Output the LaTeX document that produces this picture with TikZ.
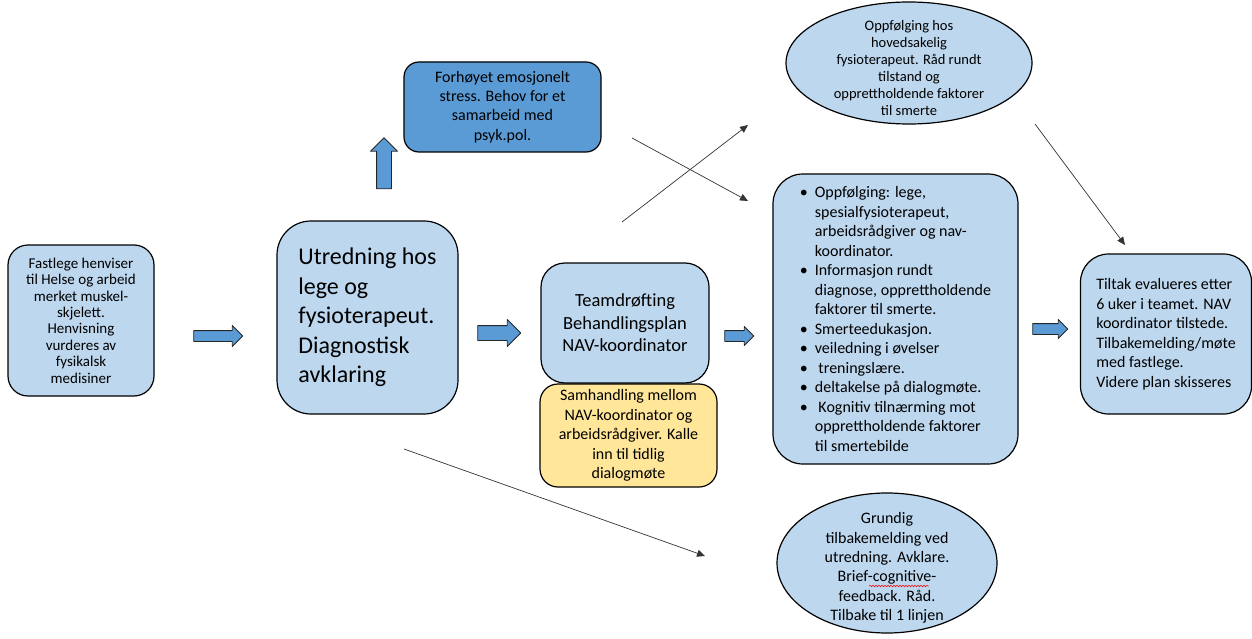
\documentclass[tikz,border=0pt]{standalone}
\usepackage{fontspec}
\setmainfont{Carlito}
\usetikzlibrary{shapes.arrows,shapes.geometric,arrows.meta,decorations.pathmorphing}
\definecolor{boxblue}{HTML}{BDD7EE}
\definecolor{darkblue}{HTML}{5B9BD5}
\definecolor{boxyellow}{HTML}{FFE699}
\newcommand\gbul{\makebox[15pt][l]{\textbullet}}
\newcommand\gind{\hspace*{15pt}}
\tikzset{
  box/.style={draw=black, line width=1.2pt, fill=boxblue, rounded corners=#1, inner sep=0pt},
  oval/.style={draw=black, line width=1.2pt, fill=boxblue, ellipse, inner sep=0pt},
  blockarrow/.style={single arrow, draw=black!85, line width=0.9pt, fill=darkblue, inner xsep=0pt,
    single arrow tip angle=90, single arrow head indent=0pt},
  thinarrow/.style={draw=black!80, line width=0.7pt, -{Triangle[length=8pt,width=7pt]}},
  txt/.style={align=center, font=\fontsize{16}{19.4}\selectfont}
}
\begin{document}
\begin{tikzpicture}[x=1pt, y=-1pt, line join=round]
\useasboundingbox (0,0) rectangle (1252,639);
% boxes
\node[box=20pt, minimum width=146, minimum height=151, align=center,
  font=\fontsize{15}{16.4}\selectfont] (henv) at (81,320.5)
  {Fastlege henviser\\til Helse og arbeid\\merket muskel-\\skjelett.\\Henvisning\\vurderes av\\fysikalsk\\medisiner};
\node[box=34pt, minimum width=181, minimum height=193, align=left,
  font=\fontsize{24}{29.5}\selectfont] (utr) at (367.5,317.5)
  {Utredning hos\\lege og\\fysioterapeut.\\Diagnostisk\\avklaring};
\node[box=24pt, minimum width=168, minimum height=120, align=center,
  font=\fontsize{18.5}{22.5}\selectfont] (team) at (625,323)
  {Teamdrøfting\\Behandlingsplan\\NAV-koordinator};
\node[box=18pt, fill=boxyellow, minimum width=177, minimum height=103, txt] (samh) at (628.5,435.5)
  {Samhandling mellom\\NAV-koordinator og\\arbeidsrådgiver. Kalle\\inn til tidlig\\dialogmøte};
\node[box=15pt, fill=darkblue, minimum width=197, minimum height=90, txt] (stress) at (502.5,107)
  {Forhøyet emosjonelt\\stress. Behov for et\\samarbeid med\\psyk.pol.};
\node[box=30pt, minimum width=245, minimum height=290, align=left,
  font=\fontsize{16}{19.5}\selectfont] (oppf) at (895.5,319)
  {\gbul Oppfølging: lege,\\\gind spesialfysioterapeut,\\\gind arbeidsrådgiver og nav-\\\gind koordinator.\\
   \gbul Informasjon rundt\\\gind diagnose, opprettholdende\\\gind faktorer til smerte.\\
   \gbul Smerteedukasjon.\\\gbul veiledning i øvelser\\\gbul\ treningslære.\\
   \gbul deltakelse på dialogmøte.\\\gbul\ Kognitiv tilnærming mot\\\gind opprettholdende faktorer\\\gind til smertebilde};
\node[box=28pt, minimum width=171, minimum height=160, align=left,
  font=\fontsize{16}{19.5}\selectfont] (tiltak) at (1166,334)
  {Tiltak evalueres etter\\6 uker i teamet. NAV\\koordinator tilstede.\\Tilbakemelding/møte\\med fastlege.\\Videre plan skisseres};
% ellipses
\node[oval, minimum width=246, minimum height=122] (fysio) at (909,63) {};
\node[align=center, font=\fontsize{14.5}{17}\selectfont] at ([yshift=-5]fysio.center)
  {Oppfølging hos\\hovedsakelig\\fysioterapeut. Råd rundt\\tilstand og\\opprettholdende faktorer\\til smerte};
\node[oval, minimum width=220, minimum height=140] (grundig) at (887,563) {};
\node[txt] (grundigtxt) at ([yshift=-5]grundig.center)
  {Grundig\\tilbakemelding ved\\utredning. Avklare.\\Brief-cognitive-\\feedback. Råd.\\Tilbake til 1 linjen};
\draw[red, line width=0.5pt, decorate, decoration={snake, amplitude=0.8pt, segment length=3pt}]
  (869,586) -- (929,586);
% block arrows
\node[blockarrow, minimum height=49, inner ysep=5pt, single arrow head extend=5pt] (pil1) at (215.5,336) {};
\node[blockarrow, minimum height=43, inner ysep=7pt, single arrow head extend=6pt] (pil2) at (495.5,333) {};
\node[blockarrow, minimum height=29, inner ysep=5pt, single arrow head extend=4pt] (pil3) at (736.5,336) {};
\node[blockarrow, minimum height=35, inner ysep=5pt, single arrow head extend=4pt] (pil4) at (1047.5,329) {};
\node[blockarrow, minimum height=51, inner xsep=7pt, inner ysep=0pt, single arrow head extend=6pt,
  shape border rotate=90] (pilopp) at (384,167) {};
% thin arrows
\coordinate (k1a) at (632,138);  \coordinate (k1b) at (748,201);
\coordinate (k2a) at (622,222);  \coordinate (k2b) at (748,125);
\coordinate (k3a) at (1035,124); \coordinate (k3b) at (1125,245);
\coordinate (k4a) at (404,449);  \coordinate (k4b) at (705,556);
\draw[thinarrow] (k1a) -- (k1b);
\draw[thinarrow] (k2a) -- (k2b);
\draw[thinarrow] (k3a) -- (k3b);
\draw[thinarrow] (k4a) -- (k4b);
\end{tikzpicture}
\end{document}
